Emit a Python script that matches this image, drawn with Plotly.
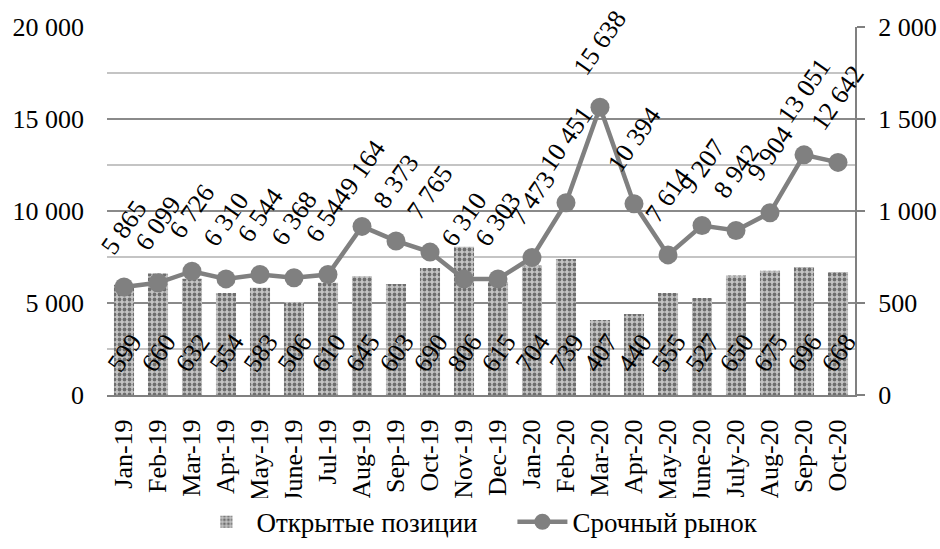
import plotly.graph_objects as go

months = ["Jan-19", "Feb-19", "Mar-19", "Apr-19", "May-19", "June-19", "Jul-19",
          "Aug-19", "Sep-19", "Oct-19", "Nov-19", "Dec-19", "Jan-20", "Feb-20",
          "Mar-20", "Apr-20", "May-20", "June-20", "July-20", "Aug-20", "Sep-20", "Oct-20"]
open_positions = [599, 660, 632, 554, 583, 506, 610, 645, 603, 690, 806, 615,
                  704, 739, 407, 440, 555, 527, 650, 675, 696, 668]
futures_market = [5865, 6099, 6726, 6310, 6544, 6368, 6544, 9164, 8373, 7765, 6310, 6303,
                  7473, 10451, 15638, 10394, 7614, 9207, 8942, 9904, 13051, 12642]

FONT = "Liberation Serif"
GRAY = "#808080"


def fmt(v):
    return f"{v:,}".replace(",", " ")


fig = go.Figure()

fig.add_trace(go.Bar(
    x=months, y=open_positions, name="Открытые позиции",
    yaxis="y",
    marker=dict(color="#b4b4b4",
                line=dict(width=0),
                pattern=dict(shape=".", fgcolor="#6e6e6e", bgcolor="#c4c4c4",
                             size=5, solidity=0.45, fillmode="replace")),
))

fig.add_trace(go.Scatter(
    x=months, y=futures_market, name="Срочный рынок",
    yaxis="y2", mode="lines+markers",
    line=dict(color=GRAY, width=4.5),
    marker=dict(color=GRAY, size=19),
))

annotations = []
for m, v in zip(months, futures_market):
    annotations.append(dict(
        x=m, y=v, xref="x", yref="y2", text=fmt(v), showarrow=False,
        textangle=-55, xanchor="center", yanchor="bottom", yshift=24,
        font=dict(family=FONT, size=26, color="black"),
    ))
for m, v in zip(months, open_positions):
    annotations.append(dict(
        x=m, y=0, xref="x", yref="y", text=fmt(v), showarrow=False,
        textangle=-55, xanchor="center", yanchor="middle", yshift=42,
        font=dict(family=FONT, size=26, color="black"),
    ))

fig.update_layout(
    width=940, height=549,
    margin=dict(l=107, r=85, t=27, b=154, autoexpand=False),
    paper_bgcolor="white", plot_bgcolor="white",
    font=dict(family=FONT, size=26, color="black"),
    separators=", ",
    bargap=0.41,
    showlegend=True,
    legend=dict(orientation="h", x=0.542, xanchor="center", y=-0.279, yanchor="top",
                font=dict(family=FONT, size=27, color="black"),
                itemwidth=50, entrywidth=251, tracegroupgap=0),
    xaxis=dict(type="category", tickangle=-90, showgrid=False,
               range=[-0.5, len(months) - 0.5], autorange=False, dtick=1,
               showline=True, linecolor=GRAY, linewidth=2,
               ticks="", ticklabelstandoff=12,
               tickfont=dict(family=FONT, size=26)),
    yaxis=dict(side="right", range=[0, 2000], autorange=False,
               tickmode="array", tickvals=[0, 500, 1000, 1500, 2000],
               separatethousands=True, exponentformat="none",
               showgrid=True, gridcolor="#c4c4c4", gridwidth=2,
               minor=dict(tickvals=[250, 750, 1250, 1750], showgrid=True,
                          gridcolor="#c4c4c4", gridwidth=2, ticks=""),
               showline=True, linecolor=GRAY, linewidth=2,
               ticks="outside", ticklen=8, tickcolor=GRAY, tickwidth=2,
               ticklabelstandoff=8, zeroline=False,
               tickfont=dict(family=FONT, size=26)),
    yaxis2=dict(side="left", overlaying="y", range=[0, 20000], autorange=False,
                tickmode="array", tickvals=[0, 5000, 10000, 15000, 20000],
                separatethousands=True, exponentformat="none",
                showgrid=True, gridcolor="#8a8a8a", gridwidth=2,
                showline=False, ticks="", ticklabelstandoff=22, zeroline=False,
                tickfont=dict(family=FONT, size=26)),
    annotations=annotations,
)

fig.write_html("out.html", config={"displayModeBar": False})

# remove the browser's default page margin so the figure sits at the window's corner
with open("out.html", "r", encoding="utf-8") as f:
    html = f.read()
html = html.replace("<body>", '<body style="margin:0;padding:0;">', 1)
with open("out.html", "w", encoding="utf-8") as f:
    f.write(html)
